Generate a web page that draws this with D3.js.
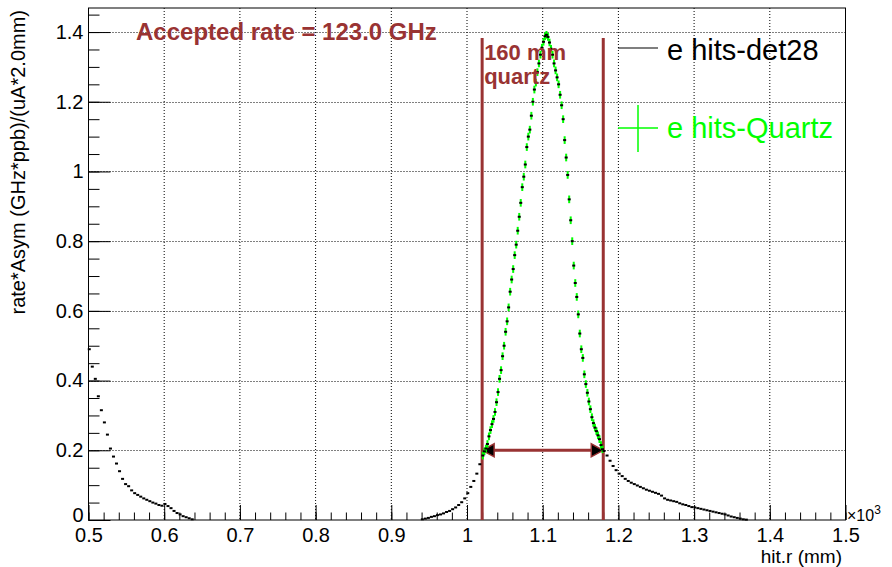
<!DOCTYPE html>
<html>
<head>
<meta charset="utf-8">
<script src="https://cdn.jsdelivr.net/npm/d3@7"></script>
<style>
  body { margin: 0; background: #ffffff; }
  svg text { font-family: "Liberation Sans", Arial, Helvetica, sans-serif; }
</style>
</head>
<body>
<svg id="chart" width="892" height="567"></svg>
<script>
"use strict";

// axis ticks (hit.r is in units of 10^3 mm)
const x_ticks = [0.5, 0.6, 0.7, 0.8, 0.9, 1.0, 1.1, 1.2, 1.3, 1.4, 1.5];
const y_ticks = [0, 0.2, 0.4, 0.6, 0.8, 1.0, 1.2, 1.4];

// e hits-det28, [hit.r, rate*Asym]
const det28_low = [
  [0.501, 0.49], [0.505, 0.44], [0.509, 0.405], [0.513, 0.355], [0.517, 0.315],
  [0.521, 0.28], [0.525, 0.245], [0.529, 0.205], [0.533, 0.182], [0.537, 0.162],
  [0.541, 0.14], [0.545, 0.118], [0.549, 0.103], [0.553, 0.097], [0.557, 0.085],
  [0.561, 0.077], [0.565, 0.072], [0.569, 0.067], [0.573, 0.062], [0.577, 0.058],
  [0.581, 0.054], [0.585, 0.05], [0.589, 0.047], [0.593, 0.043], [0.597, 0.041],
  [0.601, 0.046], [0.605, 0.04], [0.609, 0.034], [0.613, 0.026], [0.617, 0.02],
  [0.621, 0.016], [0.625, 0.011], [0.629, 0.008], [0.633, 0.005], [0.637, 0.002]
];
const det28_mid = [
  [0.941, 0.002], [0.945, 0.004], [0.949, 0.006], [0.953, 0.009], [0.957, 0.011],
  [0.961, 0.014], [0.965, 0.016], [0.969, 0.019], [0.973, 0.023], [0.977, 0.026],
  [0.981, 0.031], [0.985, 0.036], [0.989, 0.043], [0.993, 0.051], [0.997, 0.062],
  [1.001, 0.077], [1.005, 0.095], [1.009, 0.112], [1.013, 0.133], [1.017, 0.16]
];
const det28_high = [
  [1.181, 0.198], [1.185, 0.185], [1.189, 0.17], [1.193, 0.155], [1.197, 0.143],
  [1.201, 0.133], [1.205, 0.126], [1.209, 0.118], [1.213, 0.112], [1.217, 0.107],
  [1.221, 0.103], [1.225, 0.099], [1.229, 0.095], [1.233, 0.091], [1.237, 0.087],
  [1.241, 0.084], [1.245, 0.081], [1.249, 0.078], [1.253, 0.075], [1.257, 0.07],
  [1.261, 0.062], [1.265, 0.058], [1.269, 0.056], [1.273, 0.054], [1.277, 0.052],
  [1.281, 0.048], [1.285, 0.045], [1.289, 0.043], [1.293, 0.04], [1.297, 0.037],
  [1.301, 0.036], [1.305, 0.034], [1.309, 0.032], [1.313, 0.03], [1.317, 0.028],
  [1.321, 0.026], [1.325, 0.024], [1.329, 0.022], [1.333, 0.02], [1.337, 0.018],
  [1.341, 0.016], [1.345, 0.013], [1.349, 0.01], [1.353, 0.008], [1.357, 0.006],
  [1.361, 0.004], [1.365, 0.002], [1.369, 0.001]
];

// e hits-Quartz (the 160 mm window), 2 mm bins
const quartz = [
  [1.021, 0.185], [1.023, 0.197], [1.025, 0.205], [1.027, 0.218], [1.029, 0.24],
  [1.031, 0.258], [1.033, 0.275], [1.035, 0.29], [1.037, 0.31], [1.039, 0.338],
  [1.041, 0.367], [1.043, 0.405], [1.045, 0.43], [1.047, 0.47], [1.049, 0.5],
  [1.051, 0.54], [1.053, 0.57], [1.055, 0.61], [1.057, 0.655], [1.059, 0.69],
  [1.061, 0.72], [1.063, 0.76], [1.065, 0.79], [1.067, 0.83], [1.069, 0.87],
  [1.071, 0.91], [1.073, 0.955], [1.075, 0.985], [1.077, 1.02], [1.079, 1.07],
  [1.081, 1.1], [1.083, 1.12], [1.085, 1.16], [1.087, 1.2], [1.089, 1.235],
  [1.091, 1.255], [1.093, 1.285], [1.095, 1.31], [1.097, 1.335], [1.099, 1.355],
  [1.101, 1.372], [1.103, 1.388], [1.105, 1.392], [1.107, 1.386], [1.109, 1.37],
  [1.111, 1.352], [1.113, 1.335], [1.115, 1.31], [1.117, 1.29], [1.119, 1.27],
  [1.121, 1.25], [1.123, 1.22], [1.125, 1.19], [1.127, 1.15], [1.129, 1.09],
  [1.131, 1.04], [1.133, 0.99], [1.135, 0.92], [1.137, 0.86], [1.139, 0.8],
  [1.141, 0.73], [1.143, 0.68], [1.145, 0.64], [1.147, 0.59], [1.149, 0.535],
  [1.151, 0.49], [1.153, 0.465], [1.155, 0.418], [1.157, 0.39], [1.159, 0.365],
  [1.161, 0.34], [1.163, 0.318], [1.165, 0.295], [1.167, 0.278], [1.169, 0.265],
  [1.171, 0.255], [1.173, 0.243], [1.175, 0.232], [1.177, 0.215], [1.179, 0.203]
];
const quartz_err = 0.011;

// annotation values
const quartz_edges = [1.02, 1.18];
const edge_top = 1.383;
const arrow_level = 0.2;
const accepted_rate = "123.0";

const dark_red = "#993333";
const green = "#00ff00";

const frame_l = 88.5, frame_r = 845.5, frame_t = 8, frame_b = 520;

const svg = d3.select("#chart");

const x = d3.scaleLinear().domain([0.5, 1.5]).range([frame_l, frame_r]);
const y = d3.scaleLinear().domain([0, 1.469]).range([frame_b, frame_t]);

/* grid */
svg.append("g")
    .selectAll("line")
    .data(x_ticks.slice(1, -1))
    .enter().append("line")
    .attr("x1", d => x(d)).attr("x2", d => x(d))
    .attr("y1", frame_t).attr("y2", frame_b)
    .style("stroke", "#000").style("stroke-width", 1).style("stroke-dasharray", "1,2");

svg.append("g")
    .selectAll("line")
    .data(y_ticks.slice(1))
    .enter().append("line")
    .attr("x1", frame_l).attr("x2", frame_r)
    .attr("y1", d => Math.round(y(d)) + 0.5).attr("y2", d => Math.round(y(d)) + 0.5)
    .style("stroke", "#000").style("stroke-width", 1).style("stroke-dasharray", "1,2");

/* axes, ticks point into the frame */
const x_minor = d3.range(0.5, 1.5001, 0.02);
const y_minor = d3.range(0, 1.4601, 0.05);

svg.append("g")
    .attr("transform", `translate(0,${frame_b})`)
    .call(d3.axisBottom(x).tickValues(x_minor).tickSize(-7.5).tickSizeOuter(0).tickFormat(""))
    .call(g => g.select(".domain").remove());

svg.append("g")
    .attr("class", "x-axis")
    .attr("transform", `translate(0,${frame_b})`)
    .call(d3.axisBottom(x).tickValues(x_ticks).tickSize(-15).tickSizeOuter(0)
      .tickPadding(8).tickFormat(d3.format("~g")))
    .call(g => g.select(".domain").remove());

svg.append("g")
    .attr("transform", `translate(${frame_l},0)`)
    .call(d3.axisLeft(y).tickValues(y_minor).tickSize(-11).tickSizeOuter(0).tickFormat(""))
    .call(g => g.select(".domain").remove());

svg.append("g")
    .attr("class", "y-axis")
    .attr("transform", `translate(${frame_l},0)`)
    .call(d3.axisLeft(y).tickValues(y_ticks).tickSize(-22).tickSizeOuter(0)
      .tickPadding(5).tickFormat(d3.format("~g")))
    .call(g => g.select(".domain").remove());

svg.selectAll(".x-axis text, .y-axis text")
    .style("font-size", "20px")
    .style("fill", "#000");
// lift the "0" a little so it clears the "0.5" below it
svg.selectAll(".y-axis .tick text").filter(d => d === 0).attr("dy", "0.05em");
svg.selectAll(".tick line").style("stroke", "#000");

svg.append("rect")
    .attr("x", frame_l).attr("y", frame_t)
    .attr("width", frame_r - frame_l).attr("height", frame_b - frame_t)
    .style("fill", "none").style("stroke", "#000").style("stroke-width", 1);

/* axis titles */
svg.append("text")
    .attr("x", 842).attr("y", 563)
    .attr("text-anchor", "end")
    .style("font-size", "19px")
    .text("hit.r (mm)");

const pow = svg.append("text")
    .attr("x", 847).attr("y", 521)
    .style("font-size", "16px");
pow.append("tspan").text("×10");
pow.append("tspan").attr("dy", -7).style("font-size", "12px").text("3");

svg.append("text")
    .attr("transform", "translate(25,10) rotate(-90)")
    .attr("text-anchor", "end")
    .style("font-size", "20px")
    .text("rate*Asym (GHz*ppb)/(uA*2.0mm)");

/* quartz window markers */
const ann = svg.append("g");

ann.selectAll(".edge")
    .data(quartz_edges)
    .enter().append("line")
    .attr("class", "edge")
    .attr("x1", d => x(d)).attr("x2", d => x(d))
    .attr("y1", y(edge_top)).attr("y2", y(0))
    .style("stroke", dark_red).style("stroke-width", 3);

ann.append("line")
    .attr("x1", x(quartz_edges[0])).attr("x2", x(quartz_edges[1]))
    .attr("y1", y(arrow_level)).attr("y2", y(arrow_level))
    .style("stroke", dark_red).style("stroke-width", 3);

const ay = y(arrow_level);
const head = 12, half = 6.5;
ann.selectAll(".head")
    .data([[quartz_edges[0], 1], [quartz_edges[1], -1]])
    .enter().append("path")
    .attr("class", "head")
    .attr("d", d => {
      const tx = x(d[0]);
      return `M${tx},${ay} L${tx + d[1] * head},${ay - half} L${tx + d[1] * head},${ay + half} Z`;
    })
    .style("fill", "#000").style("stroke", dark_red).style("stroke-width", 1.5);

/* data points */
const det28 = det28_low.concat(det28_mid, quartz, det28_high);

const q = svg.append("g");
q.selectAll("line")
    .data(quartz)
    .enter().append("line")
    .attr("x1", d => x(d[0])).attr("x2", d => x(d[0]))
    .attr("y1", d => y(d[1] + quartz_err)).attr("y2", d => y(d[1] - quartz_err))
    .style("stroke", green).style("stroke-width", 2);

svg.append("g")
    .selectAll("rect")
    .data(det28)
    .enter().append("rect")
    .attr("x", d => x(d[0]) - 1.5)
    .attr("y", d => y(d[1]) - 1)
    .attr("width", 3)
    .attr("height", 2)
    .style("fill", "#000");

/* texts */
svg.append("text")
    .attr("x", 136).attr("y", 40)
    .style("font-size", "24px").style("font-weight", "bold")
    .style("fill", dark_red)
    .text(`Accepted rate = ${accepted_rate} GHz`);

const lbl = svg.append("text")
    .style("font-size", "22px").style("font-weight", "bold")
    .style("fill", dark_red);
lbl.append("tspan").attr("x", x(quartz_edges[0]) + 2).attr("y", 60).text("160 mm");
lbl.append("tspan").attr("x", x(quartz_edges[0]) + 2).attr("y", 84).text("quartz");

/* legend */
const legend = svg.append("g");
legend.append("line")
    .attr("x1", 618).attr("x2", 658).attr("y1", 48).attr("y2", 48)
    .style("stroke", "#000").style("stroke-width", 1.2);
legend.append("text")
    .attr("x", 667).attr("y", 60)
    .style("font-size", "29px")
    .text("e hits-det28");

legend.append("line")
    .attr("x1", 618).attr("x2", 658).attr("y1", 128).attr("y2", 128)
    .style("stroke", green).style("stroke-width", 1.5);
legend.append("line")
    .attr("x1", 638).attr("x2", 638).attr("y1", 105).attr("y2", 152)
    .style("stroke", green).style("stroke-width", 1.5);
legend.append("text")
    .attr("x", 667).attr("y", 138)
    .style("font-size", "29px")
    .style("fill", green)
    .text("e hits-Quartz");
</script>
</body>
</html>
